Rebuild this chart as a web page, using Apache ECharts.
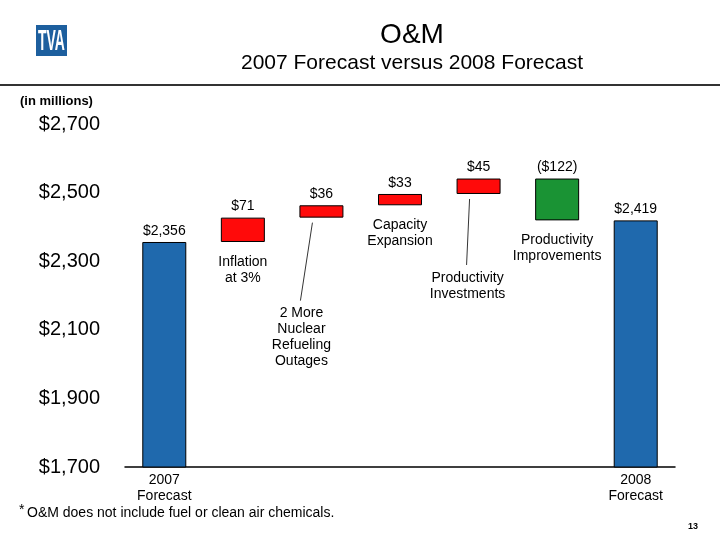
<!DOCTYPE html>
<html>
<head>
<meta charset="utf-8">
<script src="https://cdn.jsdelivr.net/npm/echarts@6/dist/echarts.min.js"></script>
<style>
  html, body { margin: 0; padding: 0; background: #fff; }
  #chart { width: 720px; height: 540px; }
</style>
</head>
<body>
<div id="chart"></div>
<script>
// data (in millions)
const categories = ['2007\nForecast', 'Inflation\nat 3%', '2 More\nNuclear\nRefueling\nOutages',
  'Capacity\nExpansion', 'Productivity\nInvestments', 'Productivity\nImprovements', '2008\nForecast']
const startValue = 2356
const changes = [71, 36, 33, 45, -122]
const endValue = 2419
const valueLabels = ['$2,356', '$71', '$36', '$33', '$45', '($122)', '$2,419']
const yTicks = [1700, 1900, 2100, 2300, 2500, 2700]

const FONT = 'Liberation Sans'
const BLUE = '#1f69ad'
const RED = '#ff0a0a'
const GREEN = '#1a9334'

// waterfall: invisible base + visible step
const base = [0]
const step = [startValue]
let running = startValue
changes.forEach(c => {
  if (c >= 0) {
    base.push(running)
    step.push(c)
  } else {
    base.push(running + c)
    step.push(-c)
  }
  running += c
})
base.push(0)
step.push(endValue)

const colors = step.map((v, i) => {
  if (i === 0 || i === step.length - 1) return BLUE
  return changes[i - 1] < 0 ? GREEN : RED
})

// labels pushed away from their bar (leader-line ones)
const moved = { 2: { dx: -20, dy: 76 }, 4: { dx: -11, dy: 64 } }

const chart = echarts.init(document.getElementById('chart'))

chart.setOption({
  animation: false,
  textStyle: { fontFamily: FONT },
  grid: { left: 125, right: 45, top: 124, bottom: 73 },
  xAxis: {
    type: 'category',
    data: categories,
    axisTick: { show: false },
    axisLine: { lineStyle: { color: '#000', width: 1.5 } },
    axisLabel: {
      interval: 0,
      margin: 5,
      fontSize: 14,
      lineHeight: 16,
      color: '#000',
      fontFamily: FONT,
      formatter: (v, i) => (i === 0 || i === categories.length - 1) ? v : ''
    }
  },
  yAxis: {
    type: 'value',
    min: yTicks[0],
    max: yTicks[yTicks.length - 1],
    interval: 200,
    axisLine: { show: false },
    axisTick: { show: false },
    splitLine: { show: false },
    axisLabel: {
      margin: 25,
      fontSize: 20,
      color: '#000',
      fontFamily: FONT,
      formatter: v => '$' + v.toLocaleString('en-US')
    }
  },
  series: [
    {
      type: 'bar',
      stack: 'wf',
      barWidth: '56%',
      data: base,
      itemStyle: { color: 'transparent' },
      emphasis: { disabled: true },
      label: {
        show: true,
        position: 'insideTop',
        distance: 12,
        fontSize: 14,
        lineHeight: 16,
        color: '#000',
        fontFamily: FONT,
        formatter: p => (p.dataIndex === 0 || p.dataIndex === categories.length - 1) ? '' : categories[p.dataIndex]
      },
      labelLayout: p => moved[p.dataIndex] || {}
    },
    {
      type: 'bar',
      stack: 'wf',
      barWidth: '56%',
      data: step.map((v, i) => ({
        value: v,
        itemStyle: { color: colors[i], borderColor: '#000', borderWidth: 1 }
      })),
      label: {
        show: true,
        position: 'top',
        distance: 4,
        fontSize: 14,
        color: '#000',
        fontFamily: FONT,
        formatter: p => valueLabels[p.dataIndex]
      }
    }
  ]
})

// leader lines from the small bars down to their moved captions
const lines = Object.keys(moved).map(k => {
  const i = Number(k)
  const bottom = chart.convertToPixel({ gridIndex: 0 }, [i, base[i]])
  return {
    type: 'line',
    shape: { x1: bottom[0] - 9, y1: bottom[1] + 5, x2: bottom[0] + moved[i].dx - 1, y2: bottom[1] + moved[i].dy + 7 },
    style: { stroke: '#000', lineWidth: 0.8 }
  }
})

chart.setOption({
  graphic: [
    // TVA logo
    { type: 'rect', shape: { x: 36, y: 25, width: 31, height: 31 }, style: { fill: '#1d5f9e' } },
    { type: 'text', x: 51.5, y: 42, scaleX: 0.48, style: { text: 'TVA', fill: '#fff', font: 'bold 29px "Liberation Sans"', align: 'center', verticalAlign: 'middle' } },
    // title
    { type: 'text', x: 412, y: 35, style: { text: 'O&M', fill: '#000', font: '28px "Liberation Sans"', align: 'center', verticalAlign: 'middle' } },
    { type: 'text', x: 412, y: 63, style: { text: '2007 Forecast versus 2008 Forecast', fill: '#000', font: '21px "Liberation Sans"', align: 'center', verticalAlign: 'middle' } },
    { type: 'line', shape: { x1: 0, y1: 85, x2: 720, y2: 85 }, style: { stroke: '#333', lineWidth: 2 } },
    { type: 'text', x: 20, y: 101, style: { text: '(in millions)', fill: '#000', font: 'bold 13px "Liberation Sans"', verticalAlign: 'middle' } },
    // footnote
    { type: 'text', x: 19, y: 510, style: { text: '*', fill: '#000', font: '14px "Liberation Sans"', verticalAlign: 'middle' } },
    { type: 'text', x: 27, y: 513, style: { text: 'O&M does not include fuel or clean air chemicals.', fill: '#000', font: '14px "Liberation Sans"', verticalAlign: 'middle' } },
    { type: 'text', x: 698, y: 527, style: { text: '13', fill: '#000', font: 'bold 9px "Liberation Sans"', align: 'right', verticalAlign: 'middle' } }
  ].concat(lines)
})
</script>
</body>
</html>
